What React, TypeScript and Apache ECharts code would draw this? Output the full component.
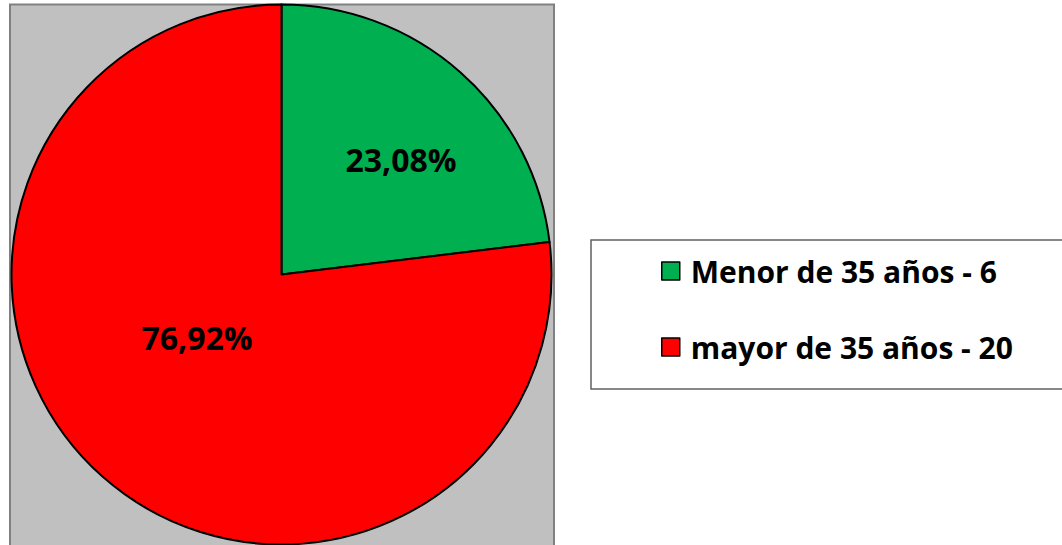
import React, { useEffect, useRef } from "react";
import * as echarts from "echarts";

const categories = ["Menor de 35 años", "mayor de 35 años"];
const values = [6, 20];
const colors = ["#00b050", "#ff0000"];

export default function App() {
  const ref = useRef<HTMLDivElement>(null);
  useEffect(() => {
    const chart = echarts.init(ref.current!, undefined, { renderer: "svg" });
    const total = values.reduce((a, b) => a + b, 0);
    // horizontal padding and spacer height per label
    const labelPads = [
      [0, 0, 0, 56],
      [0, 0, 0, 14],
    ];
    const spacers = [24, 80];
    chart.setOption({
      animation: false,
      graphic: [
        {
          type: "rect",
          z: -10,
          shape: { x: 10, y: 4.5, width: 544, height: 545 },
          style: { fill: "#c0c0c0", stroke: "#808080", lineWidth: 2 },
        },
        {
          type: "rect",
          z: -10,
          shape: { x: 591, y: 240, width: 480, height: 149 },
          style: { fill: "#ffffff", stroke: "#606060", lineWidth: 1.5 },
        },
      ],
      legend: {
        orient: "vertical",
        left: 656,
        top: 251,
        itemGap: 46,
        icon: "rect",
        itemWidth: 18,
        itemHeight: 18,
        data: categories,
        itemStyle: { borderColor: "#000", borderWidth: 1.5 },
        formatter: (name: string) => `${name} - ${values[categories.indexOf(name)]}`,
        textStyle: {
          fontFamily: "Open Sans",
          fontWeight: "bold",
          fontSize: 30,
          lineHeight: 30,
          color: "#000",
          padding: [0, 0, 0, 6],
        },
      },
      series: [
        {
          type: "pie",
          center: [281.5, 274.5],
          radius: 270,
          startAngle: 90,
          clockwise: true,
          data: categories.map((c, i) => ({
            name: c,
            value: values[i],
            itemStyle: { color: colors[i], borderColor: "#000", borderWidth: 2 },
            label: {
              padding: labelPads[i],
              rich: { s: { lineHeight: spacers[i], height: spacers[i] } },
            },
          })),
          label: {
            show: true,
            position: "inside",
            formatter: (p: any) =>
              "{t|" + ((p.value / total) * 100).toFixed(2).replace(".", ",") + "%}\n{s|}",
            rich: {
              t: {
                fontFamily: "Open Sans",
                fontWeight: "bold",
                fontSize: 32,
                lineHeight: 36,
                color: "#000",
              },
            },
          },
          labelLine: { show: false },
          emphasis: { disabled: true },
        },
      ],
    });
    return () => chart.dispose();
  }, []);
  return (
    <div
      ref={ref}
      style={{ position: "absolute", left: 0, top: 0, width: 1062, height: 545 }}
    />
  );
}
